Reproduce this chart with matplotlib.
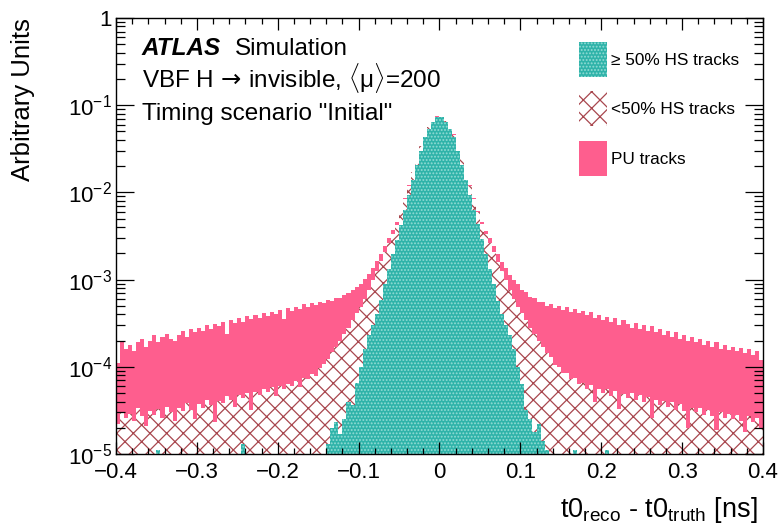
import numpy as np
import matplotlib
matplotlib.use('Agg')
import matplotlib.pyplot as plt
from matplotlib.patches import Patch
from matplotlib.ticker import FuncFormatter, MultipleLocator, LogLocator, NullFormatter

plt.rcParams['font.family'] = ['Liberation Sans', 'DejaVu Sans']
plt.rcParams['mathtext.fontset'] = 'custom'
plt.rcParams['mathtext.rm'] = 'Liberation Sans'
plt.rcParams['mathtext.it'] = 'Liberation Sans:italic'
plt.rcParams['mathtext.bf'] = 'Liberation Sans:bold'
plt.rcParams['mathtext.sf'] = 'DejaVu Sans'
plt.rcParams['hatch.linewidth'] = 0.9

# histogram range, 160 bins of 5 ps
t_lo, t_hi, n_bins = -0.4, 0.4, 160

# stacked levels (arbitrary units), left half then right half
# top of the stack: all tracks (PU on top of the HS ones)
total_left = [1.1e-4, 1.9e-4, 1.6e-4, 1.8e-4, 1.5e-4, 1.9e-4, 2.1e-4, 1.7e-4, 2.0e-4, 2.3e-4,
              1.9e-4, 2.2e-4, 2.4e-4, 2.1e-4, 2.0e-4, 2.3e-4, 2.6e-4, 2.2e-4, 2.7e-4, 2.5e-4,
              2.8e-4, 2.6e-4, 3.0e-4, 2.7e-4, 3.1e-4, 2.9e-4, 3.3e-4, 2.4e-4, 3.4e-4, 3.2e-4,
              3.6e-4, 3.3e-4, 3.8e-4, 3.5e-4, 3.9e-4, 3.6e-4, 4.1e-4, 3.8e-4, 4.3e-4, 4.0e-4,
              4.5e-4, 3.5e-4, 4.7e-4, 4.4e-4, 4.9e-4, 4.6e-4, 5.2e-4, 4.9e-4, 5.4e-4, 5.1e-4,
              5.6e-4, 5.4e-4, 5.9e-4, 5.7e-4, 6.2e-4, 6.1e-4, 6.6e-4, 7.0e-4, 7.6e-4, 8.2e-4,
              9.0e-4, 1.02e-3, 1.16e-3, 1.35e-3, 1.62e-3, 1.95e-3, 2.40e-3, 3.0e-3, 3.7e-3, 4.6e-3,
              6.0e-3, 8.7e-3, 1.22e-2, 1.72e-2, 2.42e-2, 3.42e-2, 4.6e-2, 5.65e-2, 6.65e-2, 7.45e-2]
total_right = [7.5e-2, 6.65e-2, 5.65e-2, 4.65e-2, 3.45e-2, 2.44e-2, 1.73e-2, 1.22e-2, 8.7e-3, 6.05e-3,
               4.6e-3, 3.65e-3, 3.0e-3, 2.4e-3, 1.95e-3, 1.60e-3, 1.36e-3, 1.14e-3, 1.00e-3, 8.8e-4,
               7.7e-4, 7.2e-4, 6.4e-4, 6.1e-4, 5.5e-4, 5.6e-4, 5.0e-4, 5.3e-4, 4.7e-4, 5.0e-4,
               4.5e-4, 4.8e-4, 4.3e-4, 4.6e-4, 4.1e-4, 4.4e-4, 3.9e-4, 4.2e-4, 3.6e-4, 3.9e-4,
               3.4e-4, 3.7e-4, 3.3e-4, 3.6e-4, 3.0e-4, 3.4e-4, 3.1e-4, 2.8e-4, 3.2e-4, 2.7e-4,
               3.0e-4, 2.6e-4, 2.9e-4, 2.5e-4, 2.7e-4, 2.3e-4, 2.6e-4, 2.2e-4, 2.5e-4, 2.1e-4,
               2.3e-4, 2.0e-4, 2.2e-4, 1.9e-4, 2.1e-4, 1.8e-4, 2.0e-4, 1.7e-4, 1.9e-4, 1.6e-4,
               1.8e-4, 1.55e-4, 1.7e-4, 1.5e-4, 1.65e-4, 1.45e-4, 1.6e-4, 1.35e-4, 1.5e-4, 1.2e-4]

# all hard-scatter tracks (<50% + >=50%)
hs_left = [2.2e-5, 3.0e-5, 2.6e-5, 2.9e-5, 2.4e-5, 3.4e-5, 2.7e-5, 2.1e-5, 3.1e-5, 2.8e-5,
           3.3e-5, 2.6e-5, 3.5e-5, 3.0e-5, 2.4e-5, 3.4e-5, 3.1e-5, 3.8e-5, 3.2e-5, 2.5e-5,
           3.7e-5, 3.4e-5, 4.2e-5, 3.6e-5, 2.3e-5, 4.1e-5, 3.8e-5, 4.6e-5, 4.2e-5, 3.5e-5,
           4.8e-5, 4.4e-5, 5.0e-5, 3.2e-5, 5.2e-5, 4.8e-5, 5.6e-5, 5.1e-5, 5.8e-5, 4.6e-5,
           6.0e-5, 5.6e-5, 6.4e-5, 6.1e-5, 6.8e-5, 5.9e-5, 7.5e-5, 7.2e-5, 8.3e-5, 7.9e-5,
           9.6e-5, 1.08e-4, 1.22e-4, 1.48e-4, 1.68e-4, 1.98e-4, 2.4e-4, 2.8e-4, 3.4e-4, 4.1e-4,
           4.9e-4, 6.0e-4, 7.6e-4, 9.8e-4, 1.26e-3, 1.62e-3, 2.09e-3, 2.63e-3, 3.31e-3, 4.27e-3,
           5.89e-3, 8.51e-3, 1.20e-2, 1.70e-2, 2.40e-2, 3.39e-2, 4.57e-2, 5.62e-2, 6.61e-2, 7.41e-2]
hs_right = [7.45e-2, 6.6e-2, 5.6e-2, 4.6e-2, 3.4e-2, 2.4e-2, 1.7e-2, 1.2e-2, 8.5e-3, 5.9e-3,
            4.3e-3, 3.3e-3, 2.6e-3, 2.1e-3, 1.6e-3, 1.25e-3, 9.8e-4, 7.6e-4, 6.0e-4, 4.9e-4,
            4.1e-4, 3.4e-4, 2.8e-4, 2.4e-4, 2.0e-4, 1.7e-4, 1.45e-4, 1.3e-4, 1.05e-4, 1.0e-4,
            8.6e-5, 8.4e-5, 7.2e-5, 7.4e-5, 6.4e-5, 6.6e-5, 5.6e-5, 6.2e-5, 4.0e-5, 5.6e-5,
            5.0e-5, 5.5e-5, 4.6e-5, 5.3e-5, 3.3e-5, 4.9e-5, 4.4e-5, 5.0e-5, 4.2e-5, 4.7e-5,
            4.0e-5, 4.5e-5, 2.6e-5, 4.2e-5, 3.6e-5, 4.1e-5, 3.5e-5, 3.9e-5, 3.2e-5, 3.7e-5,
            3.1e-5, 2.0e-5, 3.4e-5, 3.0e-5, 3.4e-5, 2.8e-5, 3.2e-5, 2.7e-5, 1.9e-5, 3.0e-5,
            2.6e-5, 2.9e-5, 2.5e-5, 2.8e-5, 2.4e-5, 1.8e-5, 2.7e-5, 2.3e-5, 2.6e-5, 2.0e-5]

# >= 50% HS tracks
hs50_left = ([0] * 10 + [1.1e-5] + [0] * 20 + [1.3e-5] + [0] * 20 +
             [1.3e-5, 2.0e-5, 2.3e-5, 1.7e-5, 2.5e-5, 4.0e-5, 3.6e-5, 6.5e-5, 1.0e-4, 1.6e-4,
              2.3e-4, 3.0e-4, 4.0e-4, 5.8e-4, 8.9e-4, 1.32e-3, 1.95e-3, 2.88e-3, 4.27e-3, 6.3e-3,
              9.3e-3, 1.38e-2, 2.04e-2, 2.95e-2, 4.27e-2, 5.37e-2, 6.46e-2, 7.24e-2])
hs50_right = ([7.28e-2, 6.5e-2, 5.4e-2, 4.3e-2, 2.97e-2, 2.05e-2, 1.39e-2, 9.4e-3, 6.3e-3, 4.3e-3,
               2.9e-3, 1.95e-3, 1.32e-3, 8.9e-4, 5.7e-4, 4.0e-4, 3.0e-4, 2.3e-4, 1.6e-4, 1.0e-4,
               6.3e-5, 3.2e-5, 2.5e-5, 1.8e-5, 2.2e-5, 1.4e-5, 1.1e-5] +
              [0] * 6 + [1.1e-5] + [0] * 7 + [1.1e-5] + [0] * 38)

labels = ['\u2265 50% HS tracks', '<50% HS tracks', 'PU tracks']

teal = '#2fb3a9'
teal_dot = '#93dcd5'
cross = '#a8474e'
pink = '#fe5e8e'

edges = np.linspace(t_lo, t_hi, n_bins + 1)
total = np.array(total_left + total_right)
hs = np.array(hs_left + hs_right)
hs50 = np.array(hs50_left + hs50_right)
floor = 1e-7

fig = plt.figure(figsize=(7.8, 5.3), dpi=100)
ax = fig.add_axes([0.1487, 0.1434, 0.8295, 0.8226])

ax.stairs(total, edges, baseline=floor, fill=True, facecolor=pink, lw=0)
ax.stairs(hs, edges, baseline=floor, fill=True, facecolor='white', edgecolor=cross, hatch='xx', lw=0)
ax.stairs(np.maximum(hs50, floor), edges, baseline=floor, fill=True,
          facecolor=teal, edgecolor=teal_dot, hatch='.....', lw=0)

ax.set_xlim(t_lo, t_hi)
ax.set_yscale('log')
ax.set_ylim(1e-5, 1)

ax.xaxis.set_major_locator(MultipleLocator(0.1))
ax.xaxis.set_minor_locator(MultipleLocator(0.02))
ax.xaxis.set_major_formatter(FuncFormatter(
    lambda v, p: '0' if abs(v) < 1e-9 else ('%.1f' % v).replace('-', '\u2212')))
ax.yaxis.set_major_locator(LogLocator(base=10))
ax.yaxis.set_minor_locator(LogLocator(base=10, subs=np.arange(2, 10)))
ax.yaxis.set_minor_formatter(NullFormatter())
ax.yaxis.set_major_formatter(FuncFormatter(
    lambda v, p: '1' if abs(v - 1) < 1e-9 else r'$10^{%d}$' % round(np.log10(v))))

ax.tick_params(which='both', direction='in', top=True, right=True, width=0.9, labelsize=16)
ax.tick_params(axis='x', which='major', length=8.5, pad=6)
ax.tick_params(axis='x', which='minor', length=4.3)
ax.tick_params(axis='y', which='major', length=13, pad=3)
ax.tick_params(axis='y', which='minor', length=6.5)
for s in ax.spines.values():
    s.set_linewidth(1.0)

ax.set_ylabel('Arbitrary Units', fontsize=18.5, loc='top')
ax.yaxis.set_label_coords(-0.125, 1.0)
ax.set_xlabel(r't0$_{\mathrm{reco}}$ - t0$_{\mathrm{truth}}$ [ns]', fontsize=19.5, loc='right')
ax.xaxis.set_label_coords(0.991, -0.095)

ax.text(0.040, 0.915, 'ATLAS', transform=ax.transAxes, fontsize=17.5,
        fontweight='bold', fontstyle='italic', va='baseline')
ax.text(0.184, 0.915, 'Simulation', transform=ax.transAxes, fontsize=17.5, va='baseline')
ax.text(0.040, 0.842, r'VBF H$\,\mathsf{\rightarrow}\,$invisible, $\langle\mathrm{\mu}\rangle$=200',
        transform=ax.transAxes, fontsize=17.5, va='baseline')
ax.text(0.040, 0.766, 'Timing scenario "Initial"', transform=ax.transAxes,
        fontsize=17.5, va='baseline')

handles = [Patch(facecolor=teal, edgecolor=teal_dot, hatch='.....', lw=0),
           Patch(facecolor='white', edgecolor=cross, hatch='xx', lw=0),
           Patch(facecolor=pink, lw=0)]
ax.legend(handles, labels, loc='upper left', bbox_to_anchor=(0.716, 0.945), frameon=False,
          fontsize=12.4, handlelength=1.6, handleheight=2.75, labelspacing=0.84,
          handletextpad=0.25, borderpad=0, borderaxespad=0)

fig.savefig('out.png', dpi=100)
